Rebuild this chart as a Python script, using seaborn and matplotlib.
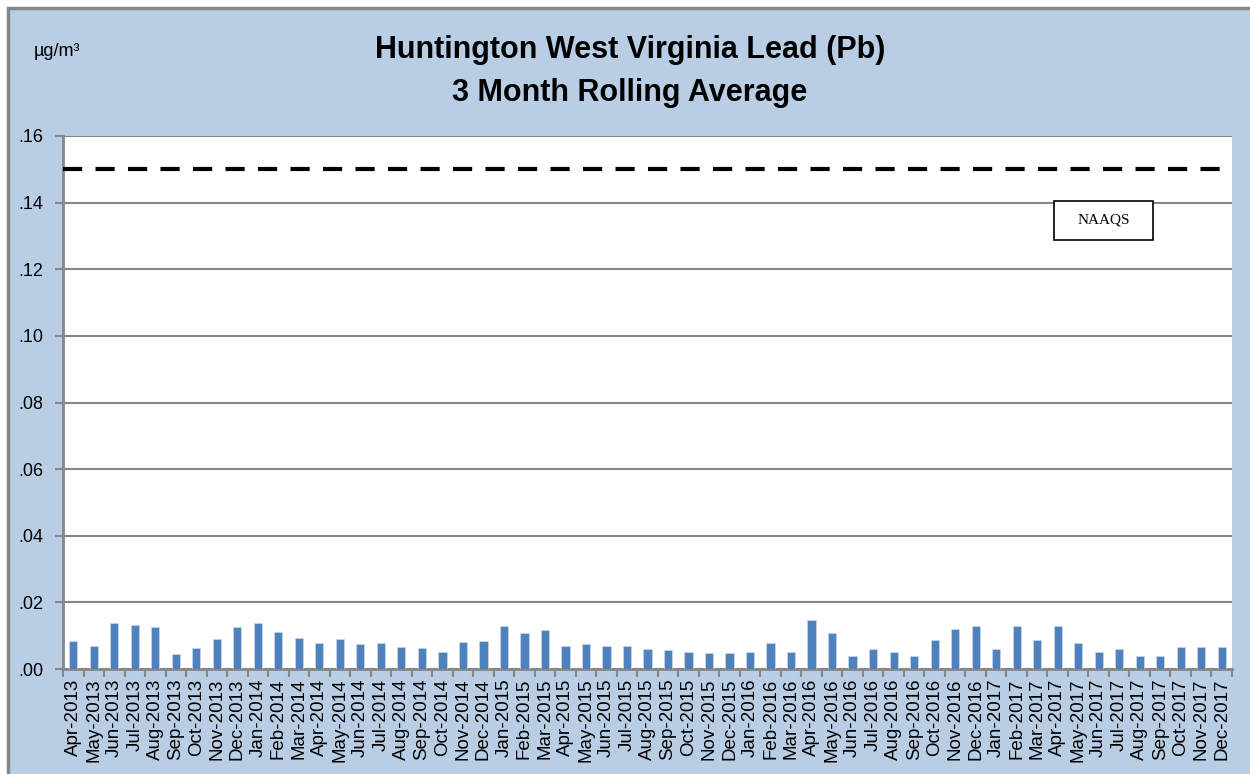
import numpy as np
import pandas as pd
import matplotlib.pyplot as plt
import seaborn as sns
from matplotlib.patches import Rectangle
from matplotlib import font_manager

months = [
    'Apr-2013', 'May-2013', 'Jun-2013', 'Jul-2013', 'Aug-2013', 'Sep-2013', 'Oct-2013', 'Nov-2013', 'Dec-2013',
    'Jan-2014', 'Feb-2014', 'Mar-2014', 'Apr-2014', 'May-2014', 'Jun-2014', 'Jul-2014', 'Aug-2014', 'Sep-2014',
    'Oct-2014', 'Nov-2014', 'Dec-2014',
    'Jan-2015', 'Feb-2015', 'Mar-2015', 'Apr-2015', 'May-2015', 'Jun-2015', 'Jul-2015', 'Aug-2015', 'Sep-2015',
    'Oct-2015', 'Nov-2015', 'Dec-2015',
    'Jan-2016', 'Feb-2016', 'Mar-2016', 'Apr-2016', 'May-2016', 'Jun-2016', 'Jul-2016', 'Aug-2016', 'Sep-2016',
    'Oct-2016', 'Nov-2016', 'Dec-2016',
    'Jan-2017', 'Feb-2017', 'Mar-2017', 'Apr-2017', 'May-2017', 'Jun-2017', 'Jul-2017', 'Aug-2017', 'Sep-2017',
    'Oct-2017', 'Nov-2017', 'Dec-2017',
]
lead = [
    0.0085, 0.0070, 0.0139, 0.0131, 0.0125, 0.0045, 0.0062, 0.0091, 0.0125,
    0.0139, 0.0111, 0.0094, 0.0079, 0.0091, 0.0074, 0.0077, 0.0065, 0.0062,
    0.0051, 0.0082, 0.0085,
    0.0128, 0.0108, 0.0117, 0.0070, 0.0076, 0.0070, 0.0070, 0.0059, 0.0056,
    0.0051, 0.0048, 0.0048,
    0.0051, 0.0079, 0.0051, 0.0148, 0.0108, 0.0039, 0.0059, 0.0051, 0.0039,
    0.0088, 0.0119, 0.0128,
    0.0059, 0.0128, 0.0088, 0.0128, 0.0079, 0.0051, 0.0059, 0.0039, 0.0039,
    0.0067, 0.0067, 0.0067,
]
naaqs = 0.15
y_ticks = [0.0, 0.02, 0.04, 0.06, 0.08, 0.10, 0.12, 0.14, 0.16]

df = pd.DataFrame({'Month': months, 'Pb': lead})

installed = {f.name for f in font_manager.fontManager.ttflist}
narrow = 'Liberation Sans Narrow' if 'Liberation Sans Narrow' in installed else 'Liberation Sans'

sns.set_theme(style="white")
plt.rcParams['font.family'] = [narrow, 'DejaVu Sans']
plt.rcParams['text.color'] = 'black'
plt.rcParams['xtick.color'] = 'black'
plt.rcParams['ytick.color'] = 'black'

bg = '#B9CDE5'
grid_c = '#868686'

fig = plt.figure(figsize=(12.5, 7.74), dpi=100)
fig.patch.set_facecolor('white')
fig.patches.append(Rectangle((8 / 1250, -0.01), 1.02, (774 - 8) / 774 + 0.01, transform=fig.transFigure,
                             facecolor=bg, edgecolor=grid_c, linewidth=2.5, zorder=-5))

ax = fig.add_axes([63 / 1250, (774 - 669) / 774, (1232 - 63) / 1250, (669 - 136) / 774])
ax.set_zorder(1)
ax.set_facecolor('white')

sns.barplot(data=df, x='Month', y='Pb', color='#4F81BD', saturation=1, width=0.4, ax=ax, zorder=3,
            edgecolor='#C5D5EA', linewidth=0.6)
ax.axhline(naaqs, color='black', linewidth=3, dashes=(4.6, 3.2), zorder=4)

ax.set_xlim(-0.5, len(months) - 0.5)
ax.set_ylim(0, 0.16)
ax.set_yticks(y_ticks)
ax.set_yticklabels(['.' + f'{v:.2f}'.split('.')[1] for v in y_ticks], fontsize=13)
ax.yaxis.grid(True, color=grid_c, linewidth=1.5, zorder=0)
ax.set_axisbelow(True)

ax.set_xticks(range(len(months)))
ax.set_xticklabels(months, rotation=90, fontsize=13.5)
ax.set_xticks(np.arange(-0.5, len(months), 1), minor=True)
ax.tick_params(axis='x', which='major', length=0, pad=7)
ax.tick_params(axis='x', which='minor', length=6, width=1.5, color=grid_c, direction='out', bottom=True)
ax.tick_params(axis='y', length=6, width=1.5, color=grid_c, labelcolor='black', direction='out',
               left=True, pad=8)
ax.set_xlabel('')
ax.set_ylabel('')

for side in ['top', 'right']:
    ax.spines[side].set_visible(False)
for side in ['left', 'bottom']:
    ax.spines[side].set_color(grid_c)
    ax.spines[side].set_linewidth(2)

# NAAQS label box
ax.add_patch(Rectangle((0.848, 0.805), 0.084, 0.073, transform=ax.transAxes, facecolor='white',
                       edgecolor='black', linewidth=1.2, zorder=5))
ax.text(0.890, 0.842, 'NAAQS', transform=ax.transAxes, ha='center', va='center', fontsize=11,
        family='Liberation Serif', zorder=6)

fig.text(630 / 1250, 1 - 50 / 774, 'Huntington West Virginia Lead (Pb)', ha='center', va='center',
         fontsize=22, fontweight='bold')
fig.text(630 / 1250, 1 - 93 / 774, '3 Month Rolling Average', ha='center', va='center',
         fontsize=22, fontweight='bold')
fig.text(34 / 1250, 1 - 52 / 774, 'µg/m³', ha='left', va='center', fontsize=13)

fig.savefig('out.png', dpi=100)
